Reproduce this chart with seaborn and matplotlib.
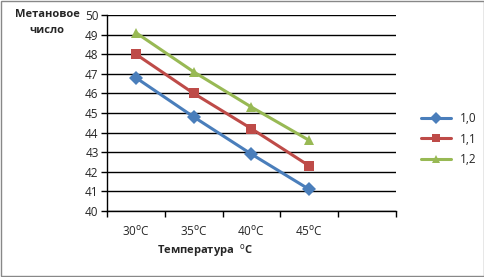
import pandas as pd
import matplotlib
matplotlib.use("Agg")
import matplotlib.pyplot as plt
import seaborn as sns

# Данные с графика
temps = ['30', '35', '40', '45']
series_names = ['1,0', '1,1', '1,2']
vals_10 = [46.8, 44.8, 42.9, 41.1]
vals_11 = [48.0, 46.0, 44.2, 42.3]
vals_12 = [49.1, 47.1, 45.3, 43.6]

sns.set_theme(style='white')
plt.rcParams['font.family'] = ['Open Sans', 'DejaVu Sans']

rows = []
for name, vals in zip(series_names, [vals_10, vals_11, vals_12]):
    for i, v in enumerate(vals):
        rows.append({'pos': i, 'val': v, 'ser': name})
df = pd.DataFrame(rows)

cores = ['#4A7EBB', '#BE4B48', '#98B954']
marcadores = ['D', 's', '^']

fig = plt.figure(figsize=(4.85, 2.77), dpi=100)
ax = fig.add_axes([0.2206, 0.2383, 0.5959, 0.7075])

sns.lineplot(data=df, x='pos', y='val', hue='ser', style='ser',
             palette=cores, markers=marcadores, dashes=False,
             markersize=7, linewidth=2.2, markeredgewidth=0, ax=ax)

ax.set_xlim(-0.5, 4.5)
ax.set_ylim(40, 50)
ax.set_yticks(range(40, 51))
ax.yaxis.grid(True, color='black', linewidth=1)
ax.set_axisbelow(True)

ax.set_xticks([-0.5, 0.5, 1.5, 2.5, 3.5, 4.5])
ax.set_xticklabels([])
ax.set_xticks(range(len(temps)), minor=True)
ax.set_xticklabels([t + r'$^{\mathrm{o}}$C' for t in temps], minor=True)
ax.tick_params(axis='x', which='major', length=4, width=1, color='black', direction='out')
ax.tick_params(axis='x', which='minor', length=0, pad=10, labelsize=8.5)
ax.tick_params(axis='y', length=4, width=1, color='black', direction='out', labelsize=8.5, pad=2)
ax.xaxis.set_ticks_position('bottom')
ax.yaxis.set_ticks_position('left')

for s in ['top', 'right']:
    ax.spines[s].set_visible(False)
for s in ['left', 'bottom']:
    ax.spines[s].set_color('black')
    ax.spines[s].set_linewidth(1)

ax.set_xlabel('')
ax.set_ylabel('')
fig.text(0.423, 0.095, r'Температура  $^{\mathrm{o}}$C', ha='center', va='center',
         fontsize=8, fontweight='bold')
fig.text(0.097, 0.948, 'Метановое', ha='center', va='center', fontsize=8, fontweight='bold')
fig.text(0.097, 0.89, 'число', ha='center', va='center', fontsize=8, fontweight='bold')

leg = ax.legend(loc='center left', bbox_to_anchor=(1.05, 0.367), frameon=False,
                fontsize=8.5, handlelength=2.5, labelspacing=0.65, title=None,
                markerscale=0.85)

fig.patches.append(plt.Rectangle((0.002, 0.004), 0.995, 0.992, transform=fig.transFigure,
                                 fill=False, edgecolor='#888888', linewidth=1))

plt.savefig('out.png', dpi=100)
